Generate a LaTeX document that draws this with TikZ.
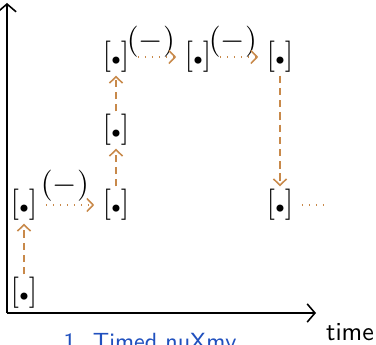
\documentclass[tikz,border=0pt]{standalone}
\usetikzlibrary{positioning,arrows.meta}
\definecolor{trace}{RGB}{200,137,74}
\definecolor{capblue}{RGB}{32,80,190}

\begin{document}
\begin{tikzpicture}[x=0.01352cm,y=-0.01352cm,
    state/.style={inner xsep=3pt,inner ysep=1pt,font=\fontsize{11.5}{13}\selectfont},
    guard/.style={font=\fontsize{11.5}{13}\selectfont},
    tip/.style={-{Straight Barb[length=2.4pt,width=5pt]}},
    jump/.style={tip,trace,dash pattern=on 0.6pt off 2.1pt,semithick},
    flow/.style={tip,trace,dash pattern=on 2.8pt off 1.9pt,semithick}]
            \useasboundingbox (0,0) rectangle (376,345);

            % axes
            \draw[-{Straight Barb[length=3pt,width=7pt]},semithick] (7,313) -- (7,3);
            \draw[-{Straight Barb[length=3pt,width=7pt]},semithick] (7,313) -- (316,313);
            \node[font=\sffamily,anchor=base] (time) at (350,340) {time};

            % states
            \node[state] (A) at (24,293) {$[{\scriptscriptstyle\bullet}]$};
            \node[state] (B) at (24,205) {$[{\scriptscriptstyle\bullet}]$};
            \node[state] (C) at (116,205) {$[{\scriptscriptstyle\bullet}]$};
            \node[state] (D) at (116,130) {$[{\scriptscriptstyle\bullet}]$};
            \node[state] (E) at (116,57) {$[{\scriptscriptstyle\bullet}]$};
            \node[state] (F) at (198,57) {$[{\scriptscriptstyle\bullet}]$};
            \node[state] (G) at (280,57) {$[{\scriptscriptstyle\bullet}]$};
            \node[state] (H) at (280,205) {$[{\scriptscriptstyle\bullet}]$};
            \coordinate (end) at (328,205);

            % labels on the jumps
            \node[guard] (lBC) at (65,186) {$(-)$};
            \node[guard] (lEF) at (151,42) {$(-)$};
            \node[guard] (lFG) at (233,42) {$(-)$};

            % transitions
            \draw[flow] (A) -- (B);
            \draw[jump] (B) -- (C);
            \draw[flow] (C) -- (D);
            \draw[flow] (D) -- (E);
            \draw[jump] (E) -- (F);
            \draw[jump] (F) -- (G);
            \draw[flow] (G) -- (H);
            \draw[trace,dash pattern=on 0.6pt off 2.1pt,semithick] (H) -- (end);

            % caption
            \node[font=\sffamily\fontsize{9}{11}\selectfont,text=capblue,anchor=base] (cap) at (150,349) {1. Timed nuXmv};
\end{tikzpicture}
\end{document}
